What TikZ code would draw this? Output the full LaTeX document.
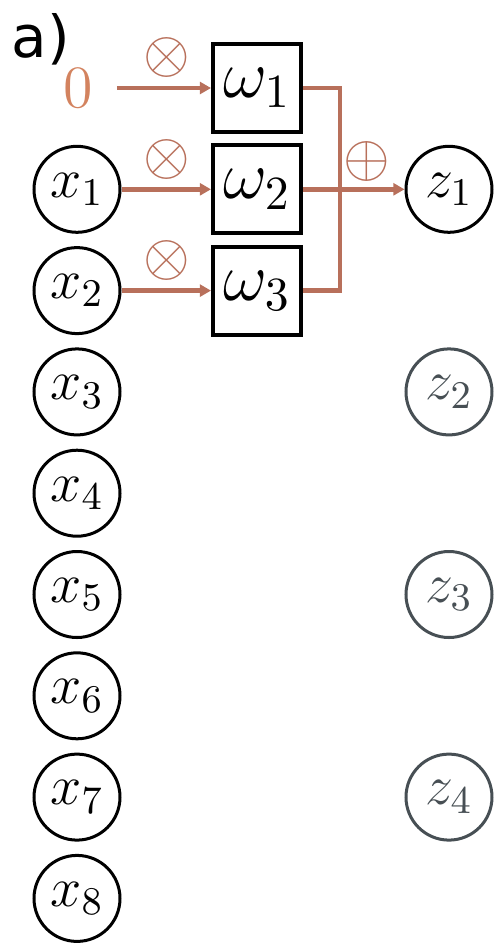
\RequirePackage{fix-cm}
\documentclass[tikz,border=0pt]{standalone}
\usepackage{fontspec}
\newfontfamily\panelfont{DejaVu Sans}
\usetikzlibrary{arrows.meta}
\definecolor{wire}{HTML}{B8705B}
\definecolor{zerocol}{HTML}{D3835F}
\definecolor{fadegray}{HTML}{474F54}

\begin{document}
\begin{tikzpicture}[x=0.25pt, y=-0.25pt,
    neuron/.style={circle, draw, line width=0.75pt, minimum size=21.5pt, inner sep=0pt, font=\fontsize{14}{16}\selectfont},
    faded/.style={neuron, draw=fadegray, text=fadegray},
    weight/.style={rectangle, draw, line width=1pt, minimum size=22pt, inner sep=0pt, font=\fontsize{17}{20}\selectfont},
    wire/.style={draw=wire, line width=1.15pt},
    arr/.style={wire, -{Triangle[length=2.8pt, width=3pt]}},
    op/.style={text=wire, inner sep=0pt, font=\fontsize{15}{18}\selectfont}]
    \useasboundingbox (0,0) rectangle (499,945);

    \node[anchor=base west, inner sep=0pt, font=\panelfont\fontsize{14.5}{16}\selectfont] (panel) at (11,57) {a)};
    \node[text=zerocol, font=\fontsize{15}{18}\selectfont] (zero) at (78,88) {$0$};

    % inputs
    \node[neuron] (x1) at (77,189.3) {$x_{1}$};
    \node[neuron] (x2) at (77,290.6) {$x_{2}$};
    \node[neuron] (x3) at (77,391.9) {$x_{3}$};
    \node[neuron] (x4) at (77,493.2) {$x_{4}$};
    \node[neuron] (x5) at (77,594.5) {$x_{5}$};
    \node[neuron] (x6) at (77,695.8) {$x_{6}$};
    \node[neuron] (x7) at (77,797.1) {$x_{7}$};
    \node[neuron] (x8) at (77,898.4) {$x_{8}$};

    % kernel
    \node[weight] (w1) at (257,88) {$\omega_{1}$};
    \node[weight] (w2) at (257,189.3) {$\omega_{2}$};
    \node[weight] (w3) at (257,290.6) {$\omega_{3}$};

    % outputs
    \node[neuron] (z1) at (449,189.3) {$z_{1}$};
    \node[faded] (z2) at (449,391.9) {$z_{2}$};
    \node[faded] (z3) at (449,594.5) {$z_{3}$};
    \node[faded] (z4) at (449,797.1) {$z_{4}$};

    \node[op] (m1) at (167,57) {$\otimes$};
    \node[op] (m2) at (167,159) {$\otimes$};
    \node[op] (m3) at (167,260) {$\otimes$};
    \node[op] (s1) at (367,161) {$\oplus$};

    \draw[arr, shorten <=2.5pt] (zero) -- (w1);
    \draw[arr] (x1) -- (w2);
    \draw[arr] (x2) -- (w3);

    \coordinate (join) at (340,189.3);
    \draw[wire] (w1.east) -| (join) |- (w3.east);
    \draw[arr] (w2) -- (z1);
\end{tikzpicture}
\end{document}
